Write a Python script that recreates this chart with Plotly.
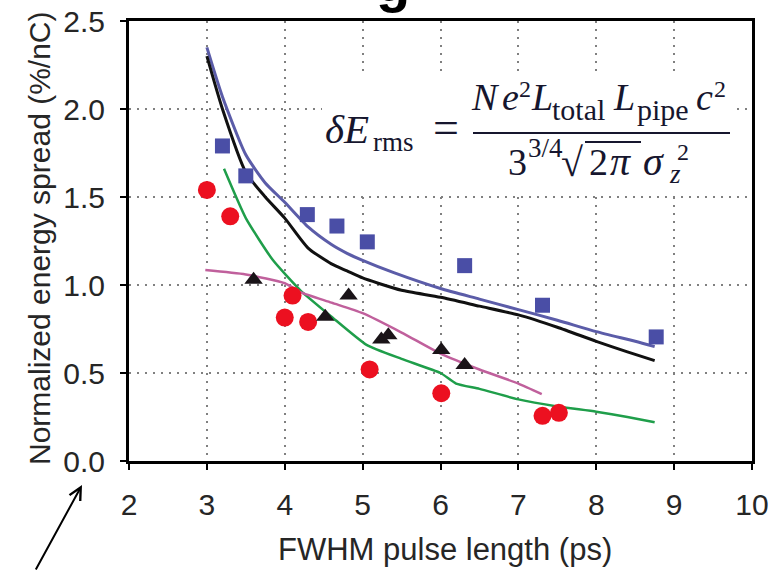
import plotly.graph_objects as go

# ---------------- data ----------------
sq_x = [3.20, 3.50, 4.29, 4.67, 5.06, 6.31, 7.31, 8.77]
sq_y = [1.79, 1.62, 1.40, 1.335, 1.245, 1.11, 0.885, 0.705]

red_x = [3.00, 3.30, 4.00, 4.10, 4.30, 5.09, 6.01, 7.31, 7.52]
red_y = [1.54, 1.39, 0.815, 0.94, 0.79, 0.52, 0.385, 0.257, 0.274]

tri_x = [3.60, 4.52, 4.82, 5.24, 5.33, 6.01, 6.31]
tri_y = [1.03, 0.82, 0.94, 0.69, 0.715, 0.63, 0.545]

blue_x = [3.0, 3.2, 3.5, 3.75, 4.0, 4.3, 4.6, 4.8, 5.0, 5.4, 6.0, 6.5, 7.0, 7.5, 8.0, 8.5, 8.75]
blue_y = [2.35, 2.07, 1.74, 1.58, 1.47, 1.33, 1.23, 1.18, 1.14, 1.07, 0.98, 0.92, 0.86, 0.80, 0.735, 0.68, 0.65]

black_x = [3.0, 3.2, 3.5, 3.75, 4.0, 4.3, 4.6, 4.8, 5.0, 5.2, 5.5, 6.0, 6.5, 7.0, 7.5, 8.0, 8.4, 8.75]
black_y = [2.30, 2.00, 1.64, 1.50, 1.38, 1.21, 1.12, 1.08, 1.04, 1.01, 0.97, 0.93, 0.88, 0.83, 0.76, 0.68, 0.62, 0.57]

green_x = [3.22, 3.5, 3.85, 4.2, 4.6, 5.05, 5.5, 6.0, 6.2, 6.5, 7.0, 7.5, 8.0, 8.4, 8.75]
green_y = [1.66, 1.38, 1.14, 0.97, 0.82, 0.66, 0.58, 0.50, 0.44, 0.41, 0.35, 0.31, 0.28, 0.25, 0.22]

mag_x = [2.98, 3.5, 4.0, 4.2, 4.6, 5.0, 5.5, 6.0, 6.5, 7.0, 7.3]
mag_y = [1.085, 1.06, 1.01, 0.96, 0.90, 0.84, 0.73, 0.61, 0.52, 0.44, 0.38]

x_ticks = [2, 3, 4, 5, 6, 7, 8, 9, 10]
y_ticks = [0.0, 0.5, 1.0, 1.5, 2.0, 2.5]

x_title = "FWHM pulse length (ps)"
y_title = "Normalized energy spread (%/nC)"

# ---------------- layout geometry ----------------
W, H = 783, 571
ML, MR, MT, MB = 129, 31, 21, 110
PW, PH = W - ML - MR, H - MT - MB


def px(x):
    return (x - ML) / PW


def py(y):
    return (H - MB - y) / PH


SANS = "Liberation Sans"
SERIF = "Liberation Serif"
FCOL = "#16162e"
TCOL = "#262626"

fig = go.Figure()

fig.add_trace(go.Scatter(x=blue_x, y=blue_y, mode="lines",
                         line=dict(color="#5b5ca8", width=3, shape="spline", smoothing=0.6)))
fig.add_trace(go.Scatter(x=black_x, y=black_y, mode="lines",
                         line=dict(color="#111111", width=3, shape="spline", smoothing=0.6)))
fig.add_trace(go.Scatter(x=green_x, y=green_y, mode="lines",
                         line=dict(color="#1f9e4a", width=2.5, shape="spline", smoothing=0.5)))
fig.add_trace(go.Scatter(x=mag_x, y=mag_y, mode="lines",
                         line=dict(color="#c0609c", width=2.5, shape="spline", smoothing=0.6)))

fig.add_trace(go.Scatter(x=sq_x, y=sq_y, mode="markers",
                         marker=dict(symbol="square", size=15, color="#4a4ea6")))
fig.add_trace(go.Scatter(x=red_x, y=red_y, mode="markers",
                         marker=dict(symbol="circle", size=18, color="#ec1020")))
fig.add_trace(go.Scatter(x=tri_x, y=tri_y, mode="markers",
                         marker=dict(symbol="triangle-up", size=16, color="#1a1418")))

axis_common = dict(
    showline=True, linecolor="black", linewidth=3, mirror=True,
    ticks="outside", ticklen=6, tickwidth=2, tickcolor="black",
    showgrid=True, gridcolor="#808080", gridwidth=2, griddash="2px,6px",
    zeroline=False,
    tickfont=dict(family=SANS, size=30, color=TCOL),
)

fig.update_layout(
    width=W, height=H,
    margin=dict(l=ML, r=MR, t=MT, b=MB, autoexpand=False),
    plot_bgcolor="white", paper_bgcolor="white",
    showlegend=False,
    xaxis=dict(range=[2, 10], tickvals=x_ticks, ticklabelstandoff=9, **axis_common),
    yaxis=dict(range=[0, 2.5], tickvals=y_ticks, tickformat=".1f", ticklabelstandoff=9,
               **axis_common),
)

# white panel behind the formula
fig.add_shape(type="rect", xref="paper", yref="paper",
              x0=px(322), x1=px(734), y0=py(192), y1=py(74),
              fillcolor="white", line=dict(width=0), layer="above")


def piece(text, left, baseline, size, italic=False):
    """formula glyph group placed by its left edge and baseline (pixels)"""
    t = "<i>%s</i>" % text if italic else text
    centre = baseline - 0.3375 * size
    return dict(text=t, x=px(left), y=py(centre), xref="paper", yref="paper",
                xanchor="left", yanchor="middle", showarrow=False,
                borderpad=0, borderwidth=0,
                font=dict(family=SERIF, size=size, color=FCOL))


ann = [
    # left-hand side
    piece("δE", 325, 143, 41, True),
    piece("rms", 373, 151, 27),
    piece("=", 433, 143, 46),
    # numerator
    piece("N", 471, 110, 38, True),
    piece("e", 502, 110, 38, True),
    piece("2", 519, 97, 24),
    piece("L", 531, 110, 38, True),
    piece("total", 552, 120, 30),
    piece("L", 613, 110, 38, True),
    piece("pipe", 637, 120, 30),
    piece("c", 696, 110, 38, True),
    piece("2", 714, 97, 24),
    # denominator
    piece("3", 508, 175, 38),
    piece("3/4", 528, 157, 27),
    piece("√", 561, 176, 40),
    piece("2", 589, 175, 38),
    piece("π", 610, 175, 40, True),
    piece("σ", 643, 175, 40, True),
    piece("z", 669, 183, 27, True),
    piece("2", 677, 160, 24),
]

# axis titles
ann.append(dict(text=x_title, x=px(445), y=py(549), xref="paper", yref="paper",
                xanchor="center", yanchor="middle", showarrow=False,
                font=dict(family=SANS, size=31, color=TCOL)))
ann.append(dict(text=y_title, x=px(39), y=py(238), xref="paper", yref="paper",
                xanchor="center", yanchor="middle", showarrow=False, textangle=-90,
                font=dict(family=SANS, size=30, color=TCOL)))

# stray title fragment at the top edge
ann.append(dict(text="<b>g</b>", x=px(393), y=py(-19), xref="paper", yref="paper",
                xanchor="center", yanchor="middle", showarrow=False,
                font=dict(family="Liberation Sans", size=56, color="black")))

# arrow at the lower left
ann.append(dict(text="", x=px(82), y=py(485), xref="paper", yref="paper",
                ax=-47, ay=86, showarrow=True, arrowhead=5, arrowwidth=2,
                arrowsize=1.2, arrowcolor="black", standoff=0))

fig.update_layout(annotations=ann)

# fraction bar and square-root bar
fig.add_shape(type="line", xref="paper", yref="paper",
              x0=px(473), x1=px(730), y0=py(133), y1=py(133),
              line=dict(color=FCOL, width=2), layer="above")
fig.add_shape(type="line", xref="paper", yref="paper",
              x0=px(585), x1=px(641), y0=py(142), y1=py(142),
              line=dict(color=FCOL, width=2), layer="above")

fig.write_html("out.html")
